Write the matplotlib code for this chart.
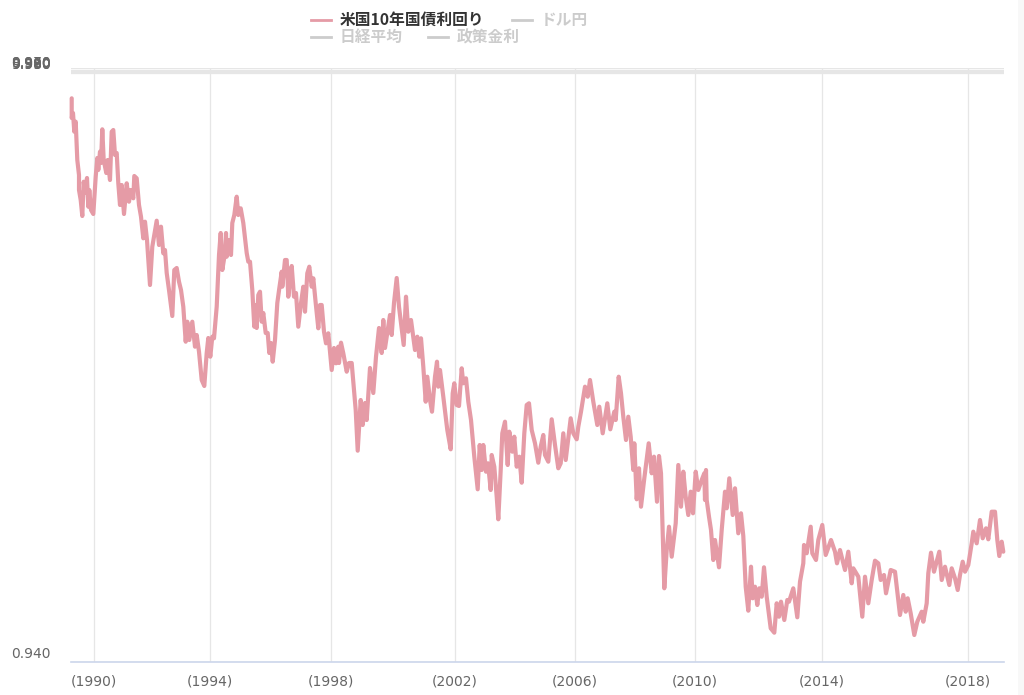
import matplotlib
matplotlib.use("Agg")
import matplotlib.pyplot as plt
from matplotlib.lines import Line2D
from matplotlib.patches import Rectangle
from matplotlib.transforms import ScaledTranslation

# Observation number along the category axis (one unit per plotted step)
obs = [
 0.7,0.7,2,3.3,4.7,6.3,8,8,9.7,11.3,12.7,14,16,17.3,18.3,20,22.3,24.7,26.3,27.3,
 29,30,31.3,32.7,35.3,36.7,39,40.7,42.3,44,45.7,47.3,49,50.7,53,55.7,58,59.7,62.3,63.3,
 65.7,68,70,72.3,74,76,79,81.3,85.7,88,90,92.3,94,95.7,98,101.3,103.3,105.7,108,110,
 112.3,114.7,116.3,118.3,121.3,124,125.7,128,130.7,133.3,135.7,137.3,139.3,141.3,143,145.7,148,149.7,151.3,154,
 155,155.7,158,160,161.3,163.3,165.7,167.3,169.7,172.3,175.7,177.3,179,181.3,183.3,184.7,185.7,187.3,189,190.7,
 192.3,194.7,196.7,198.3,200,201.7,204,206.3,208.3,210.7,211.3,214,215.7,217.3,219.3,220.7,223,225,227.3,230,
 232.3,234,236.3,238.3,240.7,242.3,244.7,247.3,249,250.7,253,255,257.3,260.7,263,265,267.3,268,270,272.3,
 275.7,278,280.7,284.7,286.7,289.7,291.7,294,295.7,299,302.3,305,308,310.7,312.3,314,319,320.7,323,325.7,
 328,332.7,335,337.3,340,344,346.3,348.3,350,352.3,354.7,356.3,359,361,364,366,367.3,369,372.3,376.3,
 379.7,381.7,383.3,385.7,388,390.7,392.3,395,397.3,400,403.3,406.7,408.7,410.7,412.3,415,417,419.7,420.7,423.3,
 425.7,427.3,429.7,431.3,434,436.7,438.3,441.3,443.3,445.7,448.3,450.7,453.3,455.7,458,460.7,464,467.3,469.7,472.3,
 474,477.3,480.7,484,487.3,489.7,492.3,494.7,499.7,502.3,505.7,507.3,510,514,516.7,519,522.3,526.3,528.3,531.7,
 536.3,539.3,543.3,544.7,547.7,550,552.3,555,557.3,559.7,562.3,563.3,565.7,568,570,573.3,577.7,580.7,583,586,
 588,590,591.3,593.3,595.7,598,600.7,604.7,607.3,610,612.3,614.7,617.3,619.7,622,624.7,627.3,630.7,633.3,634,
 635,635.7,638,640,642.3,644,648,650.7,654,655.7,658.3,661.7,664,667.3,670,672.3,674.7,677.3,680,681.7,
 684,686.3,688.3,690.7,693,695.7,699.7,703.3,705.7,708,710,713.3,716.3,718,722.3,726.3,729,732.3,733,735.7,
 739.7,741.3,745,747.3,751.3,754.7,760,764,766,769,774,777.3,780.7,782.3,787.3,789,791.3,794,797.3,800.7,
 804,807.3,809.7,813,815,819.7,824,829,832.3,834.7,836.7,839.7,843.3,846.3,850.7,852.3,855.7,857.3,860,863,
 865.7,868.3,870.7,874,878.3,880.7,884,886.7,889,891.7,894,897.3,900.7,902.3,905.7,909,911.7,915,917.3,920.7,
 924,926.3,928.3,930.7,932.3,
]

# Yield above 0.940, in steps of 0.04/592
yield_steps = [
 563.7,544,549,530.3,540.3,502,487,472,462,446,480.3,469,484,455.3,472,452,448,485.3,504,492,
 510.3,499,532.7,502,489,502,482,530.3,532,507,509,478.7,457,477,448,478.7,460.3,472,463.7,486,
 483.7,457,445.3,423.7,440.3,422,377,415.3,441.3,417,435.3,408.7,412,389,372,346,392,394,380.3,372,
 355.3,320.3,340.3,322,340.3,315.3,327,310.3,282,276,309,324,305.3,325.3,323.7,355.3,407,429,392,409,
 429,405.3,422,407,439,447,465.3,447,453.7,439,409,400.3,400.3,372,335.3,357,334,367,370.3,340.3,
 349,329,329,309,319,300.3,322,359,373.7,390.3,375.3,402,402,365.3,385.3,396,365.3,369,335.3,359,
 375.3,350.3,388.7,395.3,375.3,383.7,359,333.7,357,357,330.3,318.7,328.7,292,314,298.7,315.3,299,319.3,308.7,
 290.3,299,299,252,211.3,262,237,259,242,294,269,305.3,334,309,342,314,347,327,359,384,
 355.3,317,365.3,330.3,342,312,325.3,305.3,323.7,295.3,260.3,285.3,262,250.3,285.3,300.3,275.3,292,265.3,232,
 212.7,268.7,278.7,257,256,293.7,278.7,283.7,260.3,242,205.3,172.7,217,192,217,190.3,198.7,172,207,195.3,
 165.3,142.7,192,228.7,240.3,197,230.3,210.3,225.3,195.3,205.3,179.3,228.7,257,258.7,232,218.7,199.3,215.3,227,
 207,200.3,242.7,217,193.7,198.7,228.7,202,243.7,228.7,222.7,235.3,250.3,275.3,265.3,282,260.3,237,255.3,228.7,
 258.7,232.7,250.3,242,285.3,268.7,245.3,222,245.3,225.3,192,218.7,162.7,193.7,155.3,183.7,218.7,188.7,205.3,160.3,
 206,188.7,142,73.7,112,135.3,105.3,138.7,197,155.3,190.3,165.3,147,170.3,148.7,190.3,172,182,188.7,162,
 192,162,145.3,132,102,122,94.7,132,170.3,153.7,183.7,147,173.7,128.7,148.7,126,75.3,51.3,95.3,63.7,
 75.3,57,73.7,65.3,94.7,65.3,33.7,29.3,58.7,45.3,60.3,42,62,60.3,73.7,44.7,80.3,98.7,117,108.7,
 135.3,108.7,102,122,137,107,122,110.3,98.7,112,92,110.3,78.7,93.7,85.3,68.7,45.3,85.3,58.7,82,
 101.3,98.7,82,87,68.7,92,90.3,47,67,50.3,63.7,48.7,27,40.3,50.3,40.3,58.7,88.7,109.3,90.3,
 100.3,110.3,82,95.3,77,93.7,83.7,72,87,100.3,90.3,97,118.7,130.3,118.7,142,123.7,133.7,122.7,150.3,
 150.3,122,106,120.3,110.3,
]

year_ticks = [23, 139, 260, 384, 504, 624, 751, 897]
year_labels = ["(1990)", "(1994)", "(1998)", "(2002)", "(2006)", "(2010)", "(2014)", "(2018)"]
y_tick_steps = [0, 589, 589.7, 590.4, 591.1, 591.8, 594]
y_tick_labels = ["0.940", "9.980", "9.990", "0.980", "9.960", "9.970", ""]

series_name = "米国10年国債利回り"
hidden_names = ["ドル円", "日経平均", "政策金利"]

STEP = 0.04 / 592
BASE = 0.94
W, H = 1024, 695
LINE = "#e59ba6"
FONT = ["Noto Sans CJK JP", "DejaVu Sans"]

yields = [BASE + s * STEP for s in yield_steps]

fig = plt.figure(figsize=(W / 100, H / 100), dpi=100, facecolor="white")
fig.patches.append(Rectangle((1018 / W, 0), 6 / W, 1, transform=fig.transFigure,
                             facecolor="#f8f8f8", edgecolor="none", zorder=-5))
ax = fig.add_axes([71 / W, 1 - 662 / H, 933 / W, 594 / H])
ax.patch.set_alpha(0)
ax.plot(obs, yields, color=LINE, lw=3.0, solid_joinstyle="round", solid_capstyle="round",
        zorder=3, clip_on=False)
ax.set_xlim(0, 933)
ax.set_ylim(BASE, BASE + 594 * STEP)

for s in ("top", "right", "left"):
    ax.spines[s].set_visible(False)
ax.spines["bottom"].set_color("#ccd6eb")
ax.spines["bottom"].set_linewidth(1.2)
ax.spines["bottom"].set_zorder(4)

ax.set_xticks(year_ticks)
ax.set_xticklabels(year_labels, fontsize=10, color="#666666", family="DejaVu Sans")
ax.tick_params(axis="x", length=0, pad=9)
ax.set_yticks([BASE + s * STEP for s in y_tick_steps])
ax.set_yticklabels(y_tick_labels, fontsize=10, color="#666666", family="DejaVu Sans", va="center")
ax.tick_params(axis="y", length=0, pad=14.4)
ax.grid(True, color="#e6e6e6", lw=0.9, zorder=1)
ax.set_axisbelow(True)
shift = ScaledTranslation(0, 7.5 / 100, fig.dpi_scale_trans)
for lab in ax.get_yticklabels():
    lab.set_transform(lab.get_transform() + shift)

def legend_item(x_px, y_px, label, line_color, text_color):
    fig.add_artist(Line2D([x_px / W, (x_px + 20) / W], [1 - y_px / H] * 2, color=line_color, lw=2.0,
                          transform=fig.transFigure))
    fig.text((x_px + 29) / W, 1 - y_px / H, label, fontsize=11.3, fontweight="bold", color=text_color,
             family=FONT, va="center", ha="left")

legend_item(311, 20, series_name, LINE, "#333333")
legend_item(512, 20, hidden_names[0], "#cccccc", "#cccccc")
legend_item(311, 37, hidden_names[1], "#cccccc", "#cccccc")
legend_item(428, 37, hidden_names[2], "#cccccc", "#cccccc")

fig.savefig("out.png", dpi=100, facecolor="white")
